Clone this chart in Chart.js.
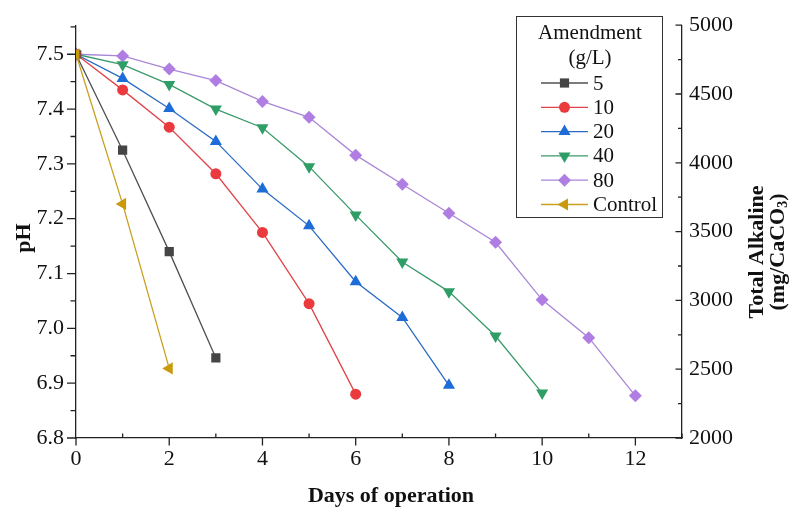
<!DOCTYPE html>
<html lang="en">
<head>
  <meta charset="UTF-8">
  <title>pH and total alkaline vs days of operation</title>
  <script src="https://cdn.jsdelivr.net/npm/chart.js"></script>
  <style>
    html, body { margin: 0; padding: 0; background: #fff; }
    #wrap { width: 795px; height: 511px; }
  </style>
</head>
<body>
  <div id="wrap"><canvas id="phChart" width="795" height="511"></canvas></div>

  <script>
    // data
    const days = [0, 1, 2, 3, 4, 5, 6, 7, 8, 9, 10, 11, 12];
    const ph5 = [7.5, 7.325, 7.14, 6.946];
    const ph10 = [7.5, 7.435, 7.367, 7.282, 7.175, 7.045, 6.880];
    const ph20 = [7.5, 7.456, 7.401, 7.341, 7.254, 7.187, 7.085, 7.020, 6.896];
    const ph40 = [7.5, 7.481, 7.445, 7.400, 7.366, 7.295, 7.207, 7.121, 7.067, 6.986, 6.882];
    const ph80 = [7.5, 7.497, 7.473, 7.452, 7.414, 7.385, 7.316, 7.263, 7.210, 7.157, 7.052, 6.983, 6.877];
    const phControl = [7.5, 7.227, 6.927];

    const amendments = ['5', '10', '20', '40', '80', 'Control'];
    const phSeries = [ph5, ph10, ph20, ph40, ph80, phControl];

    const dayTicks = [0, 2, 4, 6, 8, 10, 12];
    const phTicks = [6.8, 6.9, 7.0, 7.1, 7.2, 7.3, 7.4, 7.5];
    const alkTicks = [2000, 2500, 3000, 3500, 4000, 4500, 5000];

    // look of each series
    const looks = [
      { color: '#454545', line: '#505050', style: 'rect', rot: 0, r: 6.5 },
      { color: '#ea3a3e', line: '#e04448', style: 'circle', rot: 0, r: 5.5 },
      { color: '#1d6cd8', line: '#2a6cc4', style: 'triangle', rot: 0, r: 7 },
      { color: '#2f9e66', line: '#3a9a6a', style: 'triangle', rot: 180, r: 7 },
      { color: '#b07ee2', line: '#a986d6', style: 'rectRot', rot: 0, r: 6.5 },
      { color: '#c99a0c', line: '#c9a020', style: 'triangle', rot: 270, r: 7 }
    ];

    const serif = '"Liberation Serif", "Times New Roman", serif';
    const axisColor = '#222';

    function drawMarker(ctx, look, x, y) {
      const r = look.r;
      ctx.fillStyle = look.color;
      ctx.beginPath();
      if (look.style === 'circle') {
        ctx.arc(x, y, r, 0, Math.PI * 2);
      } else if (look.style === 'rect') {
        const s = r * Math.SQRT1_2;
        ctx.rect(x - s, y - s, 2 * s, 2 * s);
      } else if (look.style === 'rectRot') {
        ctx.moveTo(x, y - r); ctx.lineTo(x + r, y); ctx.lineTo(x, y + r); ctx.lineTo(x - r, y);
      } else {
        let a = look.rot * Math.PI / 180;
        for (let k = 0; k < 3; k++) {
          ctx.lineTo(x + Math.sin(a) * r, y - Math.cos(a) * r);
          a += 2 * Math.PI / 3;
        }
      }
      ctx.closePath();
      ctx.fill();
    }

    function vText(ctx, text, x, y) {
      ctx.save();
      ctx.translate(x, y);
      ctx.rotate(-Math.PI / 2);
      ctx.fillText(text, 0, 0);
      ctx.restore();
    }

    // ticks, axis titles and the boxed legend
    const decor = {
      id: 'decor',
      afterDraw(chart) {
        const ctx = chart.ctx;
        const { x, y, y2 } = chart.scales;
        const a = chart.chartArea;
        ctx.save();
        ctx.strokeStyle = axisColor;
        ctx.lineWidth = 1.3;
        ctx.beginPath();
        phTicks.forEach(v => {
          const p = y.getPixelForValue(v);
          ctx.moveTo(a.left, p); ctx.lineTo(a.left - 9, p);
          const m = y.getPixelForValue(v + 0.05);
          ctx.moveTo(a.left, m); ctx.lineTo(a.left - 5.5, m);
        });
        alkTicks.forEach((v, i) => {
          const p = y2.getPixelForValue(v);
          ctx.moveTo(a.right, p); ctx.lineTo(a.right - 6.5, p);
          if (i < alkTicks.length - 1) {
            const m = y2.getPixelForValue(v + 250);
            ctx.moveTo(a.right, m); ctx.lineTo(a.right - 4, m);
          }
        });
        dayTicks.forEach(v => {
          const p = x.getPixelForValue(v);
          ctx.moveTo(p, a.bottom); ctx.lineTo(p, a.bottom + 7.5);
          const m = x.getPixelForValue(v + 1);
          ctx.moveTo(m, a.bottom); ctx.lineTo(m, a.bottom - 4.5);
        });
        ctx.stroke();

        // axis titles
        ctx.fillStyle = '#111';
        ctx.textAlign = 'center';
        ctx.textBaseline = 'middle';
        ctx.font = 'bold 22px ' + serif;
        vText(ctx, 'pH', 24, 238);
        ctx.fillText('Days of operation', 391, 496);
        ctx.font = 'bold 22px ' + serif;
        vText(ctx, 'Total Alkaline', 757, 252);
        // second line with a subscript 3
        ctx.save();
        ctx.translate(778, 252);
        ctx.rotate(-Math.PI / 2);
        ctx.textAlign = 'left';
        const t1 = '(mg/CaCO', t3 = ')';
        ctx.font = 'bold 22px ' + serif;
        const w1 = ctx.measureText(t1).width, w3 = ctx.measureText(t3).width;
        ctx.font = 'bold 14px ' + serif;
        const w2 = ctx.measureText('3').width;
        const sx = -(w1 + w2 + w3) / 2;
        ctx.font = 'bold 22px ' + serif;
        ctx.fillText(t1, sx, 0);
        ctx.font = 'bold 14px ' + serif;
        ctx.fillText('3', sx + w1, 5);
        ctx.font = 'bold 22px ' + serif;
        ctx.fillText(t3, sx + w1 + w2, 0);
        ctx.restore();

        // legend box
        ctx.strokeStyle = '#333';
        ctx.lineWidth = 1;
        ctx.strokeRect(516.5, 16.5, 146, 201);
        ctx.fillStyle = '#111';
        ctx.font = '21px ' + serif;
        ctx.textAlign = 'center';
        ctx.fillText('Amendment', 590, 33);
        ctx.fillText('(g/L)', 590, 58);
        ctx.textAlign = 'left';
        amendments.forEach((name, i) => {
          const ly = 83 + i * 24.3;
          ctx.strokeStyle = looks[i].line;
          ctx.lineWidth = 1.3;
          ctx.beginPath();
          ctx.moveTo(541, ly); ctx.lineTo(588, ly);
          ctx.stroke();
          drawMarker(ctx, looks[i], 564.5, ly);
          ctx.fillStyle = '#111';
          ctx.fillText(name, 593, ly + 1);
        });
        ctx.restore();
      }
    };

    const datasets = phSeries.map((vals, i) => ({
      label: amendments[i],
      data: vals.map((v, k) => ({ x: days[k], y: v })),
      yAxisID: 'y',
      borderColor: looks[i].line,
      borderWidth: 1.3,
      pointStyle: looks[i].style,
      pointRotation: looks[i].rot,
      pointRadius: looks[i].r,
      pointBackgroundColor: looks[i].color,
      pointBorderColor: looks[i].color,
      pointBorderWidth: 0,
      order: i === 5 ? -1 : i,
      tension: 0
    }));

    const tickFont = { family: serif, size: 22 };

    new Chart(document.getElementById('phChart'), {
      type: 'line',
      data: { datasets },
      options: {
        responsive: false,
        animation: false,
        layout: { padding: { top: 14, left: 0, right: 0, bottom: 0 } },
        plugins: { legend: { display: false }, tooltip: { enabled: false } },
        scales: {
          x: {
            type: 'linear',
            position: 'bottom',
            min: 0,
            max: 13,
            afterBuildTicks: s => { s.ticks = dayTicks.map(v => ({ value: v })); },
            afterFit: s => { s.height = 73; },
            ticks: { font: tickFont, color: '#111', padding: 8, maxRotation: 0 },
            grid: { display: false, drawTicks: false },
            border: { color: axisColor, width: 1.3 }
          },
          y: {
            type: 'linear',
            position: 'left',
            min: 6.8,
            max: 7.553,
            afterBuildTicks: s => { s.ticks = phTicks.map(v => ({ value: v })); },
            afterFit: s => { s.width = 76; },
            ticks: { font: tickFont, color: '#111', padding: 12, callback: v => v.toFixed(1) },
            grid: { display: false, drawTicks: false },
            border: { color: axisColor, width: 1.3 }
          },
          y2: {
            type: 'linear',
            position: 'right',
            display: true,
            min: 2000,
            max: 5000,
            afterBuildTicks: s => { s.ticks = alkTicks.map(v => ({ value: v })); },
            afterFit: s => { s.width = 113; },
            ticks: { font: tickFont, color: '#111', padding: 7, callback: v => String(v) },
            grid: { display: false, drawTicks: false },
            border: { color: axisColor, width: 1.3 }
          }
        }
      },
      plugins: [decor]
    });
  </script>
</body>
</html>
